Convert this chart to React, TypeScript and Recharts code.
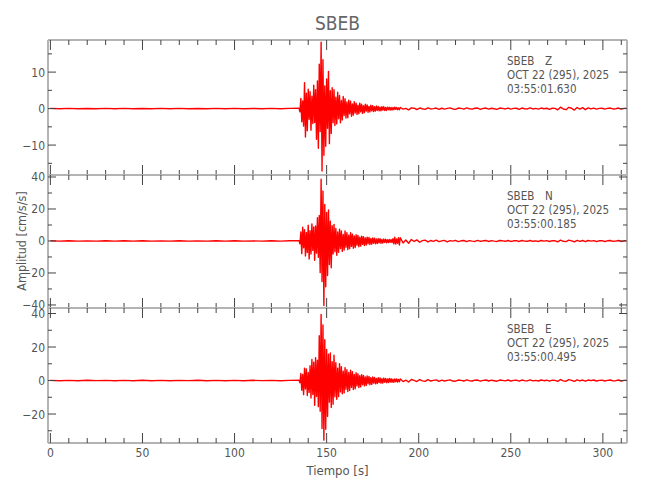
import { LineChart, Line, XAxis, YAxis } from "recharts";

const STATION = "SBEB";
const DATE_LABEL = "OCT 22 (295), 2025";
const COMPONENTS = ["Z", "N", "E"];
const START_TIMES = ["03:55:01.630", "03:55:00.185", "03:55:00.495"];

const X_TICKS = [0, 10, 20, 30, 40, 50, 60, 70, 80, 90, 100, 110, 120, 130, 140, 150, 160, 170, 180, 190, 200, 210, 220, 230, 240, 250, 260, 270, 280, 290, 300, 310];
const X_MAJOR = [0, 50, 100, 150, 200, 250, 300];

const Z_TICKS = [-15, -10, -5, 0, 5, 10, 15];
const Z_MAJOR = [-10, 0, 10];
const N_TICKS = [-40, -30, -20, -10, 0, 10, 20, 30, 40];
const N_MAJOR = [-40, -20, 0, 20, 40];
const E_TICKS = [-30, -20, -10, 0, 10, 20, 30, 40];
const E_MAJOR = [-20, 0, 20, 40];

// sampling of the three typed stretches of each trace (seconds)
const PRE_START = 0;
const PRE_STEP = 5;
const MAIN_START = 135;
const MAIN_STEP = 0.5;
const TAIL_START = 190;
const TAIL_STEP = 1.5;

// Z component, cm/s/s
const Z_PRE = [0.06, -0.04, 0.05, -0.06, 0.04, -0.05, 0.06, -0.04, 0.05, -0.05, 0.04, -0.06, 0.05, -0.04, 0.06, -0.05, 0.04, -0.05, 0.06, -0.04, 0.05, -0.06, 0.04, -0.05, 0.06, -0.04, 0.05];
const Z_MAIN = [
  0.1, -0.9, 2.8, -3.6, 2.1, -4.8, 7.1, -7.8, 4.2, -6.1,
  5.3, -2.9, 4.6, -5.9, 3.4, -4.1, 6.4, -3.8, 5.2, -8.4,
  7.6, -10.9, 12.2, -6.3, 18.2, -17.1, 13.4, -12.8, 6.2, -10.3,
  8.1, -5.4, 10.2, -9.6, 4.9, -6.8, 5.7, -3.9, 5.2, -4.6,
  3.1, -4.2, 4.5, -2.8, 3.6, -3.9, 2.2, -3.1, 3.3, -1.9,
  2.7, -2.6, 1.8, -2.5, 2.3, -1.4, 2.0, -2.1, 1.3, -1.8,
  1.9, -1.2, 1.5, -1.6, 0.9, -1.4, 1.5, -0.9, 1.2, -1.3,
  0.8, -1.1, 1.2, -0.7, 1.0, -1.0, 0.6, -0.9, 0.9, -0.6,
  0.8, -0.8, 0.5, -0.7, 0.7, -0.5, 0.6, -0.6, 0.4, -0.6,
  0.5, -0.4, 0.5, -0.5, 0.3, -0.5, 0.4, -0.3, 0.4, -0.4,
  0.3, -0.4, 0.3, -0.3, 0.4, -0.2, 0.3, -0.3, 0.2, -0.3,
];
const Z_TAIL = [
  0.3, -0.15, 0.05, -0.35, 0.2, 0.1, -0.25, 0.15, -0.05, -0.2,
  0.2, -0.1, 0.0, 0.15, -0.2, 0.1, -0.15, 0.05, 0.2, -0.1,
  -0.2, 0.15, 0.05, -0.15, 0.2, -0.05, -0.15, 0.1, 0.15, -0.2,
  0.05, 0.15, -0.15, 0.1, -0.05, -0.2, 0.15, 0.05, -0.1, 0.15,
  -0.15, 0.05, 0.1, -0.2, 0.15, -0.05, -0.1, 0.2, -0.1, 0.05,
  -0.15, 0.15, -0.05, 0.1, -0.2, 0.1, 0.05, -0.35, 0.4, -0.1,
  -0.3, 0.35, 0.1, -0.4, 0.3, -0.15, 0.25, -0.3, 0.2, -0.1,
  0.15, -0.15, 0.05, 0.1, -0.15, 0.05, 0.15, -0.1, -0.05, 0.15,
  -0.15, 0.05, 0.1,
];

// N component
const N_PRE = [0.1, -0.08, 0.12, -0.1, 0.08, -0.12, 0.1, -0.1, 0.12, -0.08, 0.1, -0.12, 0.08, -0.1, 0.12, -0.1, 0.08, -0.12, 0.1, -0.08, 0.12, -0.1, 0.08, -0.12, 0.1, -0.1, 0.12];
const N_MAIN = [
  0.2, -1.8, 5.6, -7.9, 8.6, -4.2, 7.1, -9.4, 5.3, -7.2,
  9.8, -11.3, 6.4, -8.1, 10.7, -5.9, 8.8, -12.1, 9.4, -7.6,
  14.6, -10.2, 15.9, -19.8, 38.6, -25.4, 31.2, -40.3, 22.8, -28.6,
  17.9, -21.6, 19.4, -14.7, 12.3, -16.8, 9.6, -8.1, 10.4, -6.7,
  7.8, -8.9, 5.6, -7.1, 7.4, -4.8, 6.2, -6.5, 4.1, -5.6,
  6.3, -3.9, 5.1, -5.4, 3.6, -4.8, 5.2, -3.4, 4.3, -4.5,
  3.1, -4.1, 3.9, -2.7, 3.5, -3.6, 2.4, -3.2, 3.0, -2.1,
  2.7, -2.8, 1.9, -2.5, 2.4, -1.7, 2.2, -2.2, 1.5, -2.0,
  1.9, -1.4, 1.7, -1.7, 1.2, -1.6, 1.5, -1.1, 1.4, -1.4,
  1.0, -1.3, 1.2, -0.9, 1.1, -1.1, 0.8, -1.0, 1.0, -0.8,
  0.9, -1.0, 1.4, -1.8, 2.3, -1.9, 1.2, -1.4, 2.1, -2.5,
];
const N_TAIL = [
  2.0, -1.2, 0.6, -1.4, 0.9, -0.3, 0.7, -0.8, 0.2, 0.5,
  -0.6, 0.3, -0.2, 0.5, -0.4, 0.1, 0.4, -0.5, 0.2, -0.1,
  0.4, -0.4, 0.1, 0.3, -0.4, 0.2, -0.1, -0.3, 0.4, -0.2,
  0.1, 0.3, -0.3, 0.2, -0.1, -0.3, 0.3, 0.1, -0.2, 0.3,
  -0.3, 0.1, 0.2, -0.3, 0.3, -0.1, -0.2, 0.3, -0.2, 0.1,
  -0.3, 0.3, -0.1, 0.2, -0.3, 0.2, 0.1, -0.5, 0.5, -0.2,
  -0.4, 0.5, 0.1, -0.5, 0.4, -0.2, 0.3, -0.4, 0.3, -0.1,
  0.2, -0.3, 0.1, 0.2, -0.3, 0.1, 0.3, -0.2, -0.1, 0.3,
  -0.3, 0.1, 0.2,
];

// E component
const E_PRE = [0.1, -0.12, 0.08, -0.1, 0.12, -0.08, 0.1, -0.12, 0.08, -0.1, 0.12, -0.1, 0.08, -0.12, 0.1, -0.08, 0.12, -0.1, 0.1, -0.12, 0.08, -0.1, 0.12, -0.08, 0.1, -0.12, 0.08];
const E_MAIN = [
  0.2, -1.4, 4.2, -5.8, 3.6, -8.4, 7.3, -5.1, 6.9, -8.9,
  4.8, -7.1, 8.8, -10.4, 12.6, -8.3, 10.9, -14.8, 13.7, -9.6,
  12.1, -15.6, 26.8, -18.4, 39.4, -28.7, 33.2, -35.6, 24.3, -29.1,
  18.6, -21.4, 15.7, -12.9, 16.4, -16.1, 11.3, -14.2, 15.1, -9.7,
  10.6, -11.2, 7.4, -9.6, 10.1, -6.8, 8.3, -7.9, 5.6, -7.4,
  7.7, -5.2, 6.4, -6.6, 4.8, -5.9, 6.2, -4.1, 5.3, -5.4,
  3.7, -4.9, 4.6, -3.3, 4.0, -4.2, 2.9, -3.8, 3.5, -2.5,
  3.1, -3.2, 2.2, -2.9, 2.7, -1.9, 2.5, -2.5, 1.7, -2.3,
  2.1, -1.5, 1.9, -1.9, 1.3, -1.8, 1.7, -1.2, 1.6, -1.6,
  1.1, -1.5, 1.4, -1.0, 1.3, -1.3, 0.9, -1.2, 1.2, -0.9,
  1.1, -1.1, 0.8, -1.0, 1.0, -0.7, 0.9, -0.9, 0.7, -0.8,
];
const E_TAIL = [
  0.9, -0.6, 0.2, -0.9, 0.6, 0.1, -0.6, 0.5, -0.2, -0.5,
  0.5, -0.3, 0.1, 0.4, -0.5, 0.2, -0.3, 0.1, 0.4, -0.3,
  -0.4, 0.3, 0.1, -0.3, 0.4, -0.1, -0.3, 0.2, 0.3, -0.4,
  0.1, 0.3, -0.3, 0.2, -0.1, -0.4, 0.3, 0.1, -0.2, 0.3,
  -0.3, 0.1, 0.2, -0.4, 0.3, -0.1, -0.2, 0.4, -0.2, 0.1,
  -0.3, 0.3, -0.1, 0.2, -0.4, 0.2, 0.1, -0.5, 0.6, -0.2,
  -0.4, 0.5, 0.1, -0.5, 0.4, -0.2, 0.3, -0.4, 0.3, -0.1,
  0.3, -0.3, 0.1, 0.2, -0.3, 0.1, 0.3, -0.2, -0.1, 0.3,
  -0.3, 0.1, 0.2,
];

const FONT = "'DejaVu Sans Condensed', 'DejaVu Sans', sans-serif";
const INK = "#555";
const TICK = "#444";
const FRAME = "#b4b4b4";
const TRACE = "#ff0000";

const W = 650;
const H = 500;
const PLOT_LEFT = 48;
const PLOT_RIGHT = 627;
const AXIS_GAP = 10;
const X_DOMAIN = [-1.3, 313.1];

function toRows(pre: number[], main: number[], tail: number[]) {
  const rows: { t: number; v: number }[] = [];
  pre.forEach((v, i) => rows.push({ t: PRE_START + i * PRE_STEP, v }));
  main.forEach((v, i) => rows.push({ t: MAIN_START + i * MAIN_STEP, v }));
  tail.forEach((v, i) => rows.push({ t: TAIL_START + i * TAIL_STEP, v }));
  return rows;
}

const panels = [
  { top: 40, bottom: 175, domain: [-18.2, 18.8], ticks: Z_TICKS, majors: Z_MAJOR, data: toRows(Z_PRE, Z_MAIN, Z_TAIL) },
  { top: 175, bottom: 308, domain: [-41.9, 41.25], ticks: N_TICKS, majors: N_MAJOR, data: toRows(N_PRE, N_MAIN, N_TAIL) },
  { top: 308, bottom: 443, domain: [-37.3, 43.3], ticks: E_TICKS, majors: E_MAJOR, data: toRows(E_PRE, E_MAIN, E_TAIL) },
];

const fmt = (v: number) => (v < 0 ? `\u2212${-v}` : `${v}`);

function LeftTick({ x, y, payload, majors }: any) {
  const major = majors.includes(payload.value);
  return (
    <g>
      <line x1={x} x2={x + (major ? 8 : 4)} y1={y} y2={y} stroke={TICK} />
      {major && (
        <text x={x - 3} y={y} dy={4.5} textAnchor="end" fill={INK} fontSize={12} fontFamily={FONT}>
          {fmt(payload.value)}
        </text>
      )}
    </g>
  );
}

function RightTick({ x, y, payload, majors }: any) {
  const major = majors.includes(payload.value);
  return <line x1={x} x2={x - (major ? 8 : 4)} y1={y} y2={y} stroke={TICK} />;
}

function TopTick({ x, y, payload }: any) {
  const major = X_MAJOR.includes(payload.value);
  return <line x1={x} x2={x} y1={y} y2={y + (major ? 10 : 5)} stroke={TICK} />;
}

function BottomTick({ x, y, payload, labels }: any) {
  const major = X_MAJOR.includes(payload.value);
  return (
    <g>
      <line x1={x} x2={x} y1={y} y2={y - (major ? 10 : 5)} stroke={TICK} />
      {labels && major && (
        <text x={x} y={y + 14} textAnchor="middle" fill={INK} fontSize={12} fontFamily={FONT}>
          {payload.value}
        </text>
      )}
    </g>
  );
}

const axisLine = { stroke: FRAME, strokeWidth: 2 };

export default function App() {
  return (
    <div style={{ position: "absolute", left: 0, top: 0, width: W, height: H, background: "#fff" }}>
      {panels.map((p, k) => (
        <div key={k} style={{ position: "absolute", left: 0, top: 0 }}>
          <LineChart
            width={W}
            height={H}
            data={p.data}
            margin={{
              top: p.top - AXIS_GAP,
              bottom: H - p.bottom - AXIS_GAP,
              left: PLOT_LEFT - 40,
              right: W - PLOT_RIGHT - AXIS_GAP,
            }}
          >
            <XAxis
              xAxisId="b"
              type="number"
              dataKey="t"
              orientation="bottom"
              height={AXIS_GAP}
              domain={X_DOMAIN}
              allowDataOverflow
              ticks={X_TICKS}
              interval={0}
              tickSize={0}
              tickMargin={0}
              tickLine={false}
              axisLine={axisLine}
              tick={(props: any) => <BottomTick {...props} labels={k === 2} />}
            />
            <XAxis
              xAxisId="t"
              type="number"
              dataKey="t"
              orientation="top"
              height={AXIS_GAP}
              domain={X_DOMAIN}
              allowDataOverflow
              ticks={X_TICKS}
              interval={0}
              tickSize={0}
              tickMargin={0}
              tickLine={false}
              axisLine={axisLine}
              tick={(props: any) => <TopTick {...props} />}
            />
            <YAxis
              yAxisId="l"
              type="number"
              width={40}
              domain={p.domain}
              allowDataOverflow
              ticks={p.ticks}
              interval={0}
              tickSize={0}
              tickMargin={0}
              tickLine={false}
              axisLine={axisLine}
              tick={(props: any) => <LeftTick {...props} majors={p.majors} />}
            />
            <YAxis
              yAxisId="r"
              type="number"
              orientation="right"
              width={AXIS_GAP}
              domain={p.domain}
              allowDataOverflow
              ticks={p.ticks}
              interval={0}
              tickSize={0}
              tickMargin={0}
              tickLine={false}
              axisLine={axisLine}
              tick={(props: any) => <RightTick {...props} majors={p.majors} />}
            />
            <Line
              xAxisId="t"
              yAxisId="r"
              dataKey="v"
              stroke="none"
              dot={false}
              activeDot={false}
              isAnimationActive={false}
            />
            <Line
              xAxisId="b"
              yAxisId="l"
              type="linear"
              dataKey="v"
              stroke={TRACE}
              strokeWidth={1.4}
              strokeLinejoin="round"
              dot={false}
              activeDot={false}
              isAnimationActive={false}
            />
          </LineChart>
        </div>
      ))}
      <svg width={W} height={H} style={{ position: "absolute", left: 0, top: 0, pointerEvents: "none" }}>
        <text x={337.5} y={30} textAnchor="middle" fill="#666" fontSize={19} fontFamily={FONT}>
          {STATION}
        </text>
        {panels.map((p, k) => (
          <g key={k} fill={INK} fontSize={11.5} fontFamily={FONT}>
            <text x={507} y={p.top + 25}>{STATION}</text>
            <text x={545} y={p.top + 25}>{COMPONENTS[k]}</text>
            <text x={507} y={p.top + 39}>{DATE_LABEL}</text>
            <text x={507} y={p.top + 53}>{START_TIMES[k]}</text>
          </g>
        ))}
        <text
          x={22}
          y={241}
          transform="rotate(-90 22 241)"
          textAnchor="middle"
          dy={4}
          fill={INK}
          fontSize={12.5}
          fontFamily={FONT}
        >
          Amplitud [cm/s/s]
        </text>
        <text x={337.5} y={475} textAnchor="middle" fill={INK} fontSize={13} fontFamily={FONT}>
          Tiempo [s]
        </text>
      </svg>
    </div>
  );
}
